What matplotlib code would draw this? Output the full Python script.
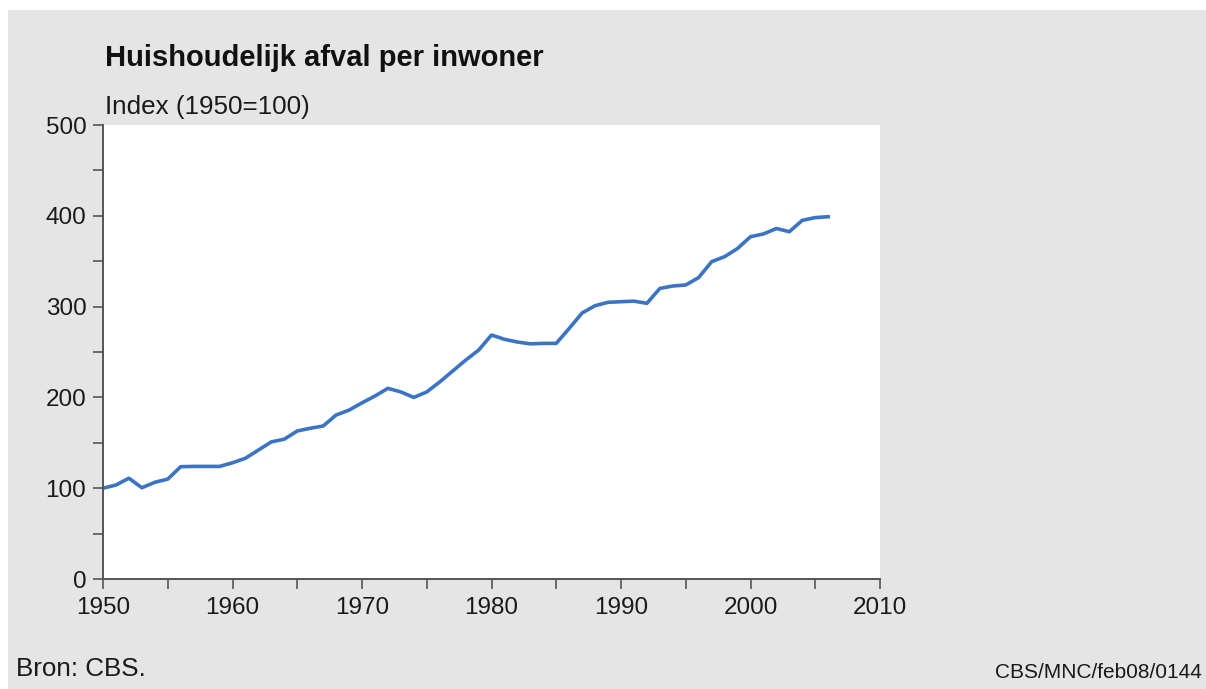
import numpy as np
import matplotlib.pyplot as plt
from matplotlib.patches import Rectangle

# Index huishoudelijk afval per inwoner (1950=100)
years = list(range(1950, 2007))
index_values = [100, 103.5, 111, 100.5, 106.5, 110, 123.7, 124, 124, 124,
                128, 133, 142, 151, 154, 163, 166, 168.5, 180.6, 186,
                194, 201.5, 210, 206, 200, 206, 217, 229, 241, 252,
                268.7, 264, 261, 259, 259.5, 259.5, 276, 293, 301, 304.7,
                305.4, 306, 303.6, 320, 322.7, 323.8, 332, 349.5, 355, 364,
                377, 380, 386, 382.5, 395, 398, 399]

x_ticks = list(range(1950, 2011, 10))
y_ticks = list(range(0, 501, 100))

W, H = 1206, 689
fig = plt.figure(figsize=(W / 100, H / 100), dpi=100)
fig.patch.set_facecolor('white')
# grey panel with a thin white margin top/left
fig.patches.append(Rectangle((8 / W, 0), 1, 1 - 10 / H, transform=fig.transFigure,
                             facecolor='#e5e5e5', edgecolor='none', zorder=-1))

plt.rcParams['font.family'] = ['Liberation Sans', 'DejaVu Sans']

ax = fig.add_axes([103 / W, 1 - 579 / H, (880 - 103) / W, (579 - 125) / H])
ax.set_facecolor('white')
ax.plot(years, index_values, color='#3b74c2', linewidth=2.6, solid_joinstyle='round')

ax.set_xlim(1950, 2010)
ax.set_ylim(0, 500)
ax.set_xticks(x_ticks)
ax.set_xticks(range(1950, 2011, 5), minor=True)
ax.set_yticks(y_ticks)
ax.set_yticks(range(0, 501, 50), minor=True)
ax.tick_params(which='both', direction='out', length=7, width=1.2, color='#555555',
               labelsize=17.5, labelcolor='#1a1a1a')
ax.tick_params(axis='x', pad=6)
ax.tick_params(axis='y', pad=5)
for side in ['top', 'right']:
    ax.spines[side].set_visible(False)
for side in ['left', 'bottom']:
    ax.spines[side].set_color('#555555')
    ax.spines[side].set_linewidth(1.4)

fig.text(105 / W, 1 - 58 / H, 'Huishoudelijk afval per inwoner', fontsize=21,
         fontweight='bold', color='#111111', va='center', ha='left')
fig.text(105 / W, 1 - 107 / H, 'Index (1950=100)', fontsize=18.7, color='#1a1a1a',
         va='center', ha='left')
fig.text(16 / W, 1 - 669 / H, 'Bron: CBS.', fontsize=18.7, color='#1a1a1a',
         va='center', ha='left')
fig.text(1202 / W, 1 - 673 / H, 'CBS/MNC/feb08/0144', fontsize=15, color='#1a1a1a',
         va='center', ha='right')

fig.savefig('out.png', dpi=100)
